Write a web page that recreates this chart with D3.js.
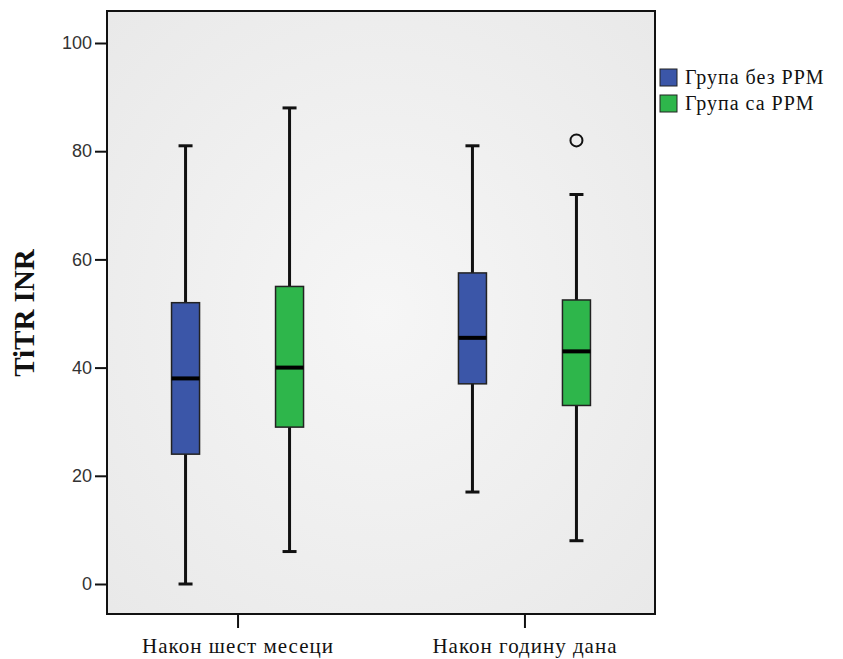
<!DOCTYPE html>
<html>
<head>
<meta charset="utf-8">
<script src="https://cdn.jsdelivr.net/npm/d3@7"></script>
<style>
  html, body { margin: 0; padding: 0; background: #fff; }
  svg { display: block; }
  .serif { font-family: "Liberation Serif", "Times New Roman", Tinos, "DejaVu Serif", FreeSerif, "Noto Serif", serif; }
  .sans { font-family: "Liberation Sans", Arial, "DejaVu Sans", sans-serif; }
</style>
</head>
<body>
<script>
// Box plot data: TiTR INR by period and group
const periods = ["Након шест месеци", "Након годину дана"];
const groups = ["Група без РРМ", "Група са РРМ"];
const groupColors = ["#3b56a8", "#2eb64b"];

const whiskerLow  = [[0, 6], [17, 8]];
const q1          = [[24, 29], [37, 33]];
const median      = [[38, 40], [45.5, 43]];
const q3          = [[52, 55], [57.5, 52.5]];
const whiskerHigh = [[81, 88], [81, 72]];
const outliers    = [[[], []], [[], [82]]];

const yTicks = [0, 20, 40, 60, 80, 100];
const yTitle = "TiTR INR";

const W = 843, H = 659;
const frame = { left: 107, right: 655, top: 11, bottom: 614 };
const boxWidth = 28;

const svg = d3.select("body").append("svg").attr("width", W).attr("height", H);

const defs = svg.append("defs");
const grad = defs.append("radialGradient").attr("id", "bg").attr("cx", "50%").attr("cy", "50%").attr("r", "75%");
grad.append("stop").attr("offset", "0%").attr("stop-color", "#f6f6f6");
grad.append("stop").attr("offset", "100%").attr("stop-color", "#e8e8e8");

const y = d3.scaleLinear().domain([0, 100]).range([584, 43]);
const x = d3.scalePoint().domain(periods).range([frame.left, frame.right]).padding(0.455);
const xg = d3.scalePoint().domain(groups).range([-52, 52]);

// plot background + frame
svg.append("rect")
  .attr("x", frame.left).attr("y", frame.top)
  .attr("width", frame.right - frame.left).attr("height", frame.bottom - frame.top)
  .attr("fill", "url(#bg)").attr("stroke", "#111").attr("stroke-width", 2);

// y axis
const yAxis = svg.append("g").attr("transform", `translate(${frame.left},0)`)
  .call(d3.axisLeft(y).tickValues(yTicks).tickSize(12).tickPadding(3));
yAxis.attr("font-family", null).attr("font-size", null);
yAxis.select(".domain").remove();
yAxis.selectAll("line").attr("stroke", "#111").attr("stroke-width", 2);
yAxis.selectAll("text").attr("class", "sans").style("font-size", "18px").attr("fill", "#333");

// x axis
const xAxis = svg.append("g").attr("transform", `translate(0,${frame.bottom})`)
  .call(d3.axisBottom(x).tickSize(14).tickPadding(10));
xAxis.attr("font-family", null).attr("font-size", null);
xAxis.select(".domain").remove();
xAxis.selectAll("line").attr("stroke", "#111").attr("stroke-width", 2);
xAxis.selectAll("text").attr("class", "serif")
  .style("font-size", "21px").style("letter-spacing", "1px").attr("fill", "#111");

// y title
svg.append("text")
  .attr("class", "serif")
  .attr("transform", `translate(34,313) rotate(-90)`)
  .attr("text-anchor", "middle")
  .style("font-weight", "bold").style("font-size", "29px").attr("fill", "#111")
  .text(yTitle);

// boxes
periods.forEach((p, i) => {
  groups.forEach((g, j) => {
    const cx = x(p) + xg(g);
    const x0 = cx - boxWidth / 2;
    const grp = svg.append("g");
    // whisker line
    grp.append("line").attr("x1", cx).attr("x2", cx)
      .attr("y1", y(whiskerLow[i][j])).attr("y2", y(whiskerHigh[i][j]))
      .attr("stroke", "#111").attr("stroke-width", 3);
    // caps
    [whiskerLow[i][j], whiskerHigh[i][j]].forEach(v => {
      grp.append("line").attr("x1", cx - 7).attr("x2", cx + 7)
        .attr("y1", y(v)).attr("y2", y(v))
        .attr("stroke", "#111").attr("stroke-width", 3);
    });
    // box
    grp.append("rect").attr("x", x0).attr("width", boxWidth)
      .attr("y", y(q3[i][j])).attr("height", y(q1[i][j]) - y(q3[i][j]))
      .attr("fill", groupColors[j]).attr("stroke", "#222").attr("stroke-width", 1.5);
    // median
    grp.append("line").attr("x1", x0).attr("x2", x0 + boxWidth)
      .attr("y1", y(median[i][j])).attr("y2", y(median[i][j]))
      .attr("stroke", "#000").attr("stroke-width", 4);
    // outliers
    outliers[i][j].forEach(v => {
      grp.append("circle").attr("cx", cx).attr("cy", y(v)).attr("r", 6)
        .attr("fill", "none").attr("stroke", "#111").attr("stroke-width", 2);
    });
  });
});

// legend
const legend = svg.append("g").attr("transform", "translate(660,69)");
groups.forEach((g, j) => {
  const row = legend.append("g").attr("transform", `translate(0,${j * 26})`);
  row.append("rect").attr("width", 17).attr("height", 17)
    .attr("fill", groupColors[j]).attr("stroke", "#222").attr("stroke-width", 1);
  row.append("text").attr("class", "serif").attr("x", 25).attr("y", 15)
    .style("font-size", "20px").style("letter-spacing", "1px").attr("fill", "#111").text(g);
});
</script>
</body>
</html>
